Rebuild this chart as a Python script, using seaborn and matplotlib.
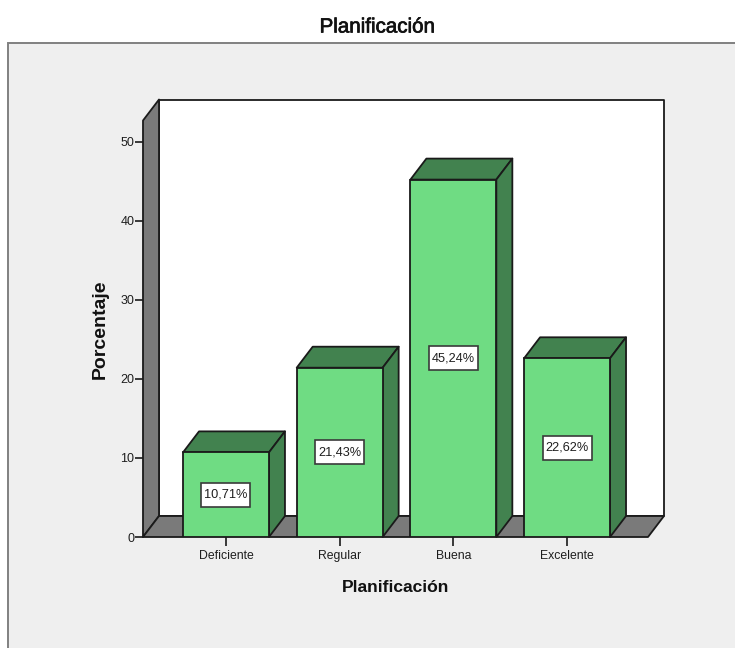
import matplotlib
matplotlib.use("Agg")
import matplotlib.pyplot as plt
import matplotlib.patheffects as pe
import pandas as pd
import seaborn as sns
from matplotlib.patches import Polygon, Rectangle

# Survey results
categories = ["Deficiente", "Regular", "Buena", "Excelente"]
percentages = [10.71, 21.43, 45.24, 22.62]
y_ticks = [0, 10, 20, 30, 40, 50]
title_text = "Planificación"
x_label = "Planificación"
y_label = "Porcentaje"

FRONT = "#6FDC83"
SHADE = "#42824F"
WALL = "#7A7A7A"
PANEL = "#EFEFEF"
EDGE = "#1A1A1A"
TEXT = "#1E1E1E"

W, H = 735, 648
sns.set_theme(style="white")
plt.rcParams["font.family"] = ["Liberation Sans", "DejaVu Sans"]

fig = plt.figure(figsize=(W / 100, H / 100), dpi=100, facecolor="white")

# Grey panel behind the plot, running off the right and bottom edges
fig.add_artist(Rectangle((8 / W, -0.01), 1, 1 - 42.5 / H + 0.01, transform=fig.transFigure,
                         facecolor=PANEL, edgecolor="#808080", linewidth=1.4, zorder=-1))

left, right, top, bottom = 143, 648, 120.5, 537
ax = fig.add_axes([left / W, 1 - bottom / H, (right - left) / W, (bottom - top) / H])
ax.patch.set_visible(False)

df = pd.DataFrame({"categoria": categories, "porcentaje": percentages})
sns.barplot(data=df, x="categoria", y="porcentaje", ax=ax, color=FRONT, saturation=1,
            width=0.756, edgecolor=EDGE, linewidth=1.3, zorder=5)

x0, x1 = -0.73, 3.712
y0, y1 = 0, 52.72
ax.set_xlim(x0, x1)
ax.set_ylim(y0, y1)

# Data units per pixel on each axis
ux = (x1 - x0) / (right - left)
uy = (y1 - y0) / (bottom - top)

# Extrusion depth: 16 px across and 21 px up
dx = 16 * ux
dy = 21 * uy


def face(points, color, z, lw=1.3):
    ax.add_patch(Polygon(points, closed=True, facecolor=color, edgecolor=EDGE,
                         linewidth=lw, joinstyle="round", clip_on=False, zorder=z))


# Back wall, side wall and floor
face([(x0 + dx, y0 + dy), (x1 + dx, y0 + dy), (x1 + dx, y1 + dy), (x0 + dx, y1 + dy)], "white", 1)
face([(x0, y0), (x0 + dx, y0 + dy), (x0 + dx, y1 + dy), (x0, y1)], WALL, 2)
face([(x0, y0), (x1, y0), (x1 + dx, y0 + dy), (x0 + dx, y0 + dy)], WALL, 2)

# Top and side faces of each bar, then its boxed value label
box_w, box_h = 49 * ux, 24 * uy
for bar, value in zip(ax.patches[:len(percentages)], percentages):
    a, b = bar.get_x(), bar.get_x() + bar.get_width()
    mid = (a + b) / 2
    face([(a, value), (b, value), (b + dx, value + dy), (a + dx, value + dy)], SHADE, 4)
    face([(b, y0), (b + dx, y0 + dy), (b + dx, value + dy), (b, value)], SHADE, 4)
    ax.add_patch(Rectangle((mid - box_w / 2, value / 2 - box_h / 2), box_w, box_h, facecolor="white",
                           edgecolor="#3A3A3A", linewidth=1.2, zorder=6))
    ax.text(mid, value / 2, f"{value:.2f}%".replace(".", ","), ha="center", va="center",
            fontsize=9.2, color=TEXT, zorder=7)

ax.set_yticks(y_ticks)
ax.tick_params(axis="y", length=5.8, width=1.2, color=EDGE, pad=0.5, labelsize=9, labelcolor=TEXT, left=True)
ax.tick_params(axis="x", length=6.7, width=1.2, color=EDGE, pad=2.8, labelsize=8.8, labelcolor=TEXT, bottom=True)
for spine in ax.spines.values():
    spine.set_visible(False)
ax.set_xlabel("")
ax.set_ylabel("")

fig.text(377 / W, 1 - 27 / H, title_text, ha="center", va="center", fontsize=14.8, color="#111111",
         path_effects=[pe.withStroke(linewidth=0.5, foreground="#111111")])
fig.text(396 / W, 1 - 587 / H, x_label, ha="center", va="center", fontsize=12.6, fontweight="bold", color="#111111")
fig.text(100.5 / W, 1 - 329.5 / H, y_label, ha="center", va="center", rotation=90, fontsize=14,
         fontweight="bold", color="#111111")

fig.savefig("out.png", dpi=100)
